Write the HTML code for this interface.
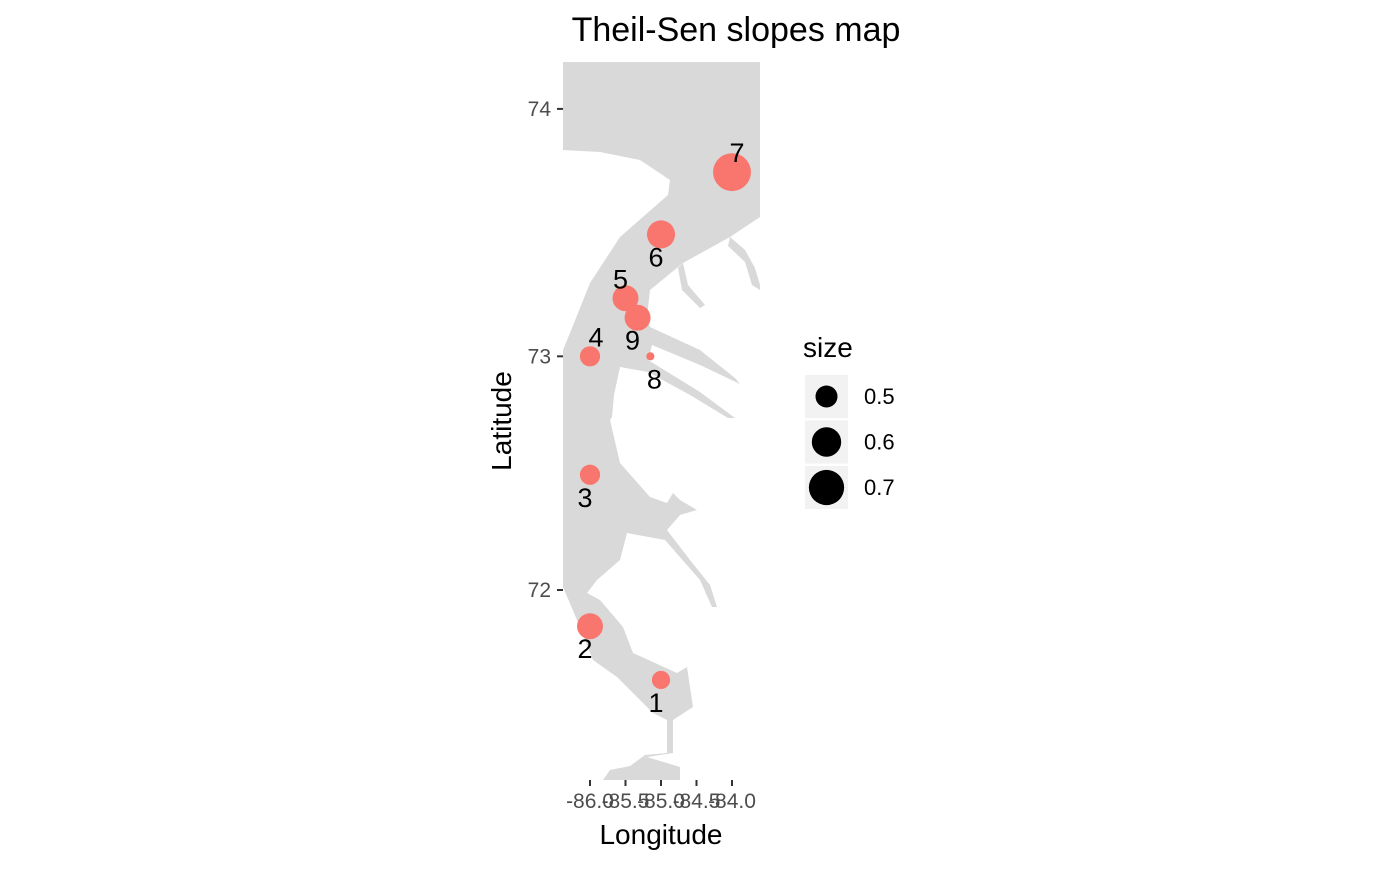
<!DOCTYPE html>
<html><head><meta charset="utf-8"><style>
body{margin:0;background:#fff;}
svg text{font-family:"Liberation Sans",Arial,sans-serif;}
</style></head><body>
<svg width="1400" height="866" viewBox="0 0 1400 866">
<text x="736" y="41" font-size="34" text-anchor="middle">Theil-Sen slopes map</text>
<g>
<rect x="563" y="62" width="197" height="718" fill="#fff"/>
<path fill="#d9d9d9" d="M563,62 L760,62 L760,217 L730,237 L683,263 L650,290 L647,317 L650,327 L700,350 L735,378 L740,384 L700,365 L652,345 L648,360 L700,392 L735,418 L728,418 L690,395 L648,372 L620,367 L614,395 L612,417 L610,420 L620,463 L650,497 L667,503 L673,493 L680,500 L697,510 L680,515 L667,530 L690,560 L710,585 L717,607 L712,607 L700,580 L665,540 L627,533 L620,560 L597,580 L587,593 L600,600 L623,627 L633,653 L677,673 L687,667 L693,707 L673,720 L673,753 L647,757 L680,767 L680,780 L603,780 L610,770 L630,766 L645,755 L667,753 L667,720 L653,713 L617,677 L593,660 L577,620 L563,587 Z"/>
<path fill="#fff" d="M563,150 L600,152 L640,160 L670,180 L668,195 L620,237 L590,283 L570,333 L563,350 Z"/>
<path fill="#d9d9d9" d="M730,237 L745,250 L755,268 L760,285 L760,290 L752,285 L745,262 L728,246 Z"/>
<path fill="#d9d9d9" d="M683,263 L688,285 L705,305 L700,308 L682,290 L678,268 Z"/>
</g>
<g font-size="21" fill="#4d4d4d" id="yaxis"></g>
<g font-size="21" fill="#4d4d4d" id="xaxis"></g>
<g id="points"></g>
<text x="661" y="844" font-size="28" text-anchor="middle">Longitude</text>
<text x="0" y="0" font-size="28" text-anchor="middle" transform="translate(511,421) rotate(-90)">Latitude</text>
<g id="legend">
<text x="803" y="357" font-size="28">size</text>
</g>
</svg>
<script>
const ids=["1","2","3","4","5","6","7","8","9"];
const lons=[-85.0,-86.0,-86.0,-86.0,-85.5,-85.0,-84.0,-85.15,-85.33];
const lats=[71.60,71.84,72.50,73.00,73.24,73.50,73.75,73.00,73.16];
const sizes=[0.46,0.55,0.48,0.48,0.55,0.58,0.75,0.39,0.55];
const xTicks=[-86.0,-85.5,-85.0,-84.5,-84.0];
const xTickLabels=["-86.0","-85.5","-85.0","-84.5","-84.0"];
const yTicks=[72,73,74];
const yTickLabels=["72","73","74"];
const legendSizes=[0.5,0.6,0.7];
const legendLabels=["0.5","0.6","0.7"];
const NS="http://www.w3.org/2000/svg";
function merc(l){return Math.log(Math.tan(Math.PI/4+l*Math.PI/360));}
function yS(l){return 590-(merc(l)-merc(72))*4025;}
function xS(l){return 590+(l+86)*71;}
function rS(s){return Math.sqrt(Math.max(4,121+950*(s-0.5)));}
function mk(t,a,p){const e=document.createElementNS(NS,t);for(const k in a)e.setAttribute(k,a[k]);p.appendChild(e);return e;}
const ya=document.getElementById('yaxis');
yTicks.forEach((v,i)=>{const y=yS(v);
 const l=mk('line',{x1:557,x2:563,y1:y,y2:y,stroke:'#333','stroke-width':2},ya);
 
 
 const t=mk('text',{x:551,y:y+7,'text-anchor':'end'},ya);t.textContent=yTickLabels[i];
 
 });
const xa=document.getElementById('xaxis');
xTicks.forEach((v,i)=>{const x=xS(v);
 const l=mk('line',{x1:x,x2:x,y1:780,y2:786,stroke:'#333','stroke-width':2},xa);
 
 
 const t=mk('text',{x:x,y:808,'text-anchor':'middle'},xa);t.textContent=xTickLabels[i];
 
 });
const pg=document.getElementById('points');
const above={"4":1,"5":1,"7":1};
ids.forEach((id,i)=>{const x=xS(lons[i]),y=yS(lats[i]),r=rS(sizes[i]);
 const c=mk('circle',{cx:x,cy:y,r:r,fill:'#f8766d'},pg);
 
 
 const ty=above[id]?y-10:y+32;
 const dx=id==="7"?5:(id==="8"?4:(id==="4"?6:-5));
 const t=mk('text',{x:x+dx,y:ty,'font-size':27,'text-anchor':'middle'},pg);t.textContent=id;
 
 });
const lg=document.getElementById('legend');
legendSizes.forEach((s,i)=>{const y=375+i*45.5;
 const b=mk('rect',{x:805,y:y,width:43,height:43,fill:'#f2f2f2'},lg);
 
 
 const c=mk('circle',{cx:826.5,cy:y+21.5,r:rS(s),fill:'#000'},lg);
 
 
 const t=mk('text',{x:864,y:y+29,'font-size':22},lg);t.textContent=legendLabels[i];
 
 });
</script>
</body></html>
